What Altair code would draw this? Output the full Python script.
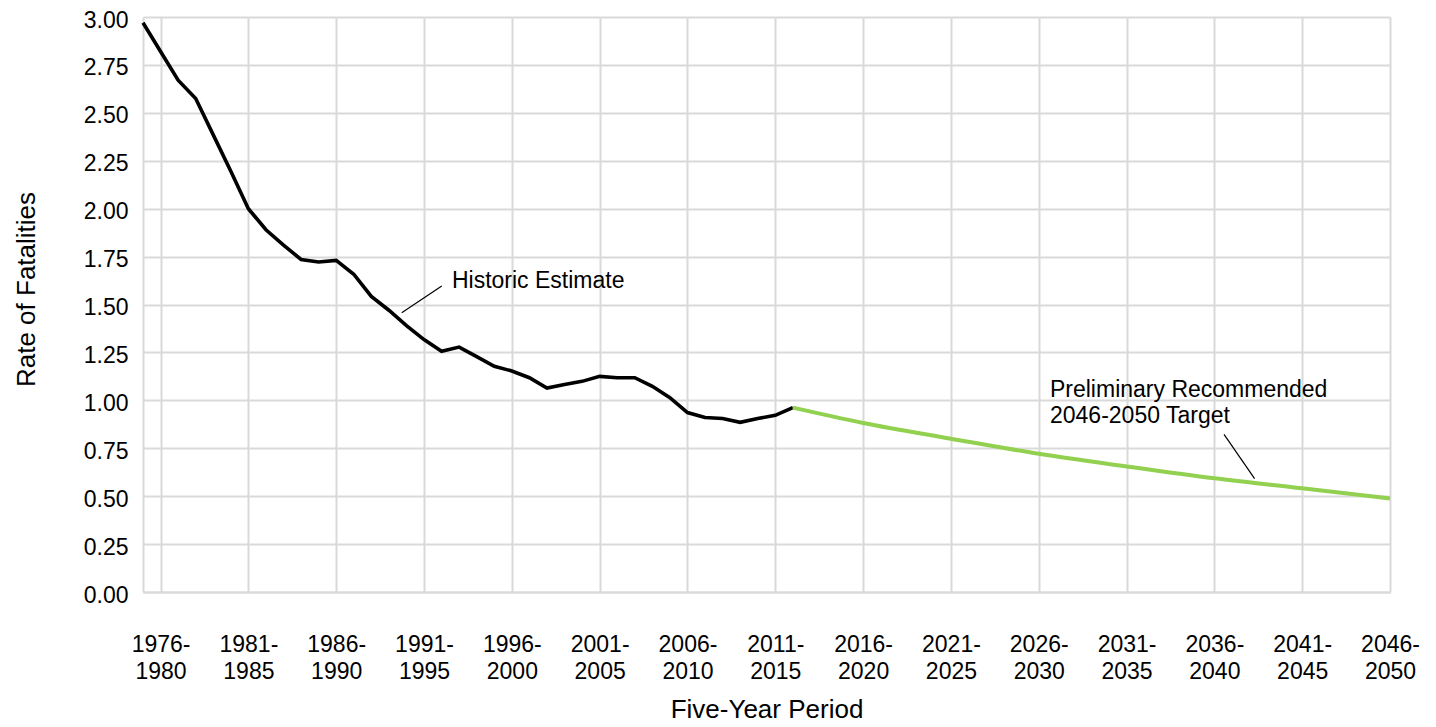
import altair as alt
import pandas as pd

# ---- data ----
hist_years = list(range(1979, 2017))
hist_values = [2.97, 2.82, 2.67, 2.575, 2.385, 2.195, 2.00, 1.89, 1.81, 1.735,
               1.722, 1.73, 1.658, 1.542, 1.47, 1.39, 1.317, 1.256, 1.278, 1.228,
               1.178, 1.153, 1.118, 1.064, 1.083, 1.099, 1.125, 1.118, 1.118, 1.073,
               1.014, 0.936, 0.91, 0.905, 0.885, 0.905, 0.922, 0.962]

target_years = [2016, 2020, 2025, 2030, 2035, 2040, 2045, 2050]
target_values = [0.962, 0.882, 0.80, 0.721, 0.655, 0.593, 0.541, 0.488]

tick_years = list(range(1980, 2051, 5))
y_ticks = [0, 0.25, 0.5, 0.75, 1.0, 1.25, 1.5, 1.75, 2.0, 2.25, 2.5, 2.75, 3.0]

label_texts = ["Historic Estimate", "Preliminary Recommended", "2046-2050 Target"]
label_x = [1996.59, 2030.64, 2030.64]
label_y = [1.5835, 1.019, 0.880]

leader_x = [1993.73, 2040.55]
leader_y = [1.457, 0.822]
leader_x2 = [1996.01, 2042.29]
leader_y2 = [1.597, 0.592]

FONT = "Liberation Sans"
GRID = "#d9d9d9"

hist_df = pd.DataFrame({"year": hist_years, "value": hist_values})
target_df = pd.DataFrame({"year": target_years, "value": target_values})
label_df = pd.DataFrame({"year": label_x, "value": label_y, "text": label_texts})
leader_df = pd.DataFrame({"year": leader_x, "value": leader_y, "year2": leader_x2, "value2": leader_y2})

x_scale = alt.Scale(domain=[1979, 2050], nice=False, zero=False)
y_scale = alt.Scale(domain=[0, 3], nice=False)

x_axis = alt.Axis(
    values=tick_years, title="Five-Year Period", grid=True, gridColor=GRID, gridWidth=2,
    domainColor=GRID, domainWidth=2, ticks=False,
    labelExpr="[toString(datum.value - 4) + '-', toString(datum.value)]",
    labelFont=FONT, labelFontSize=23, labelColor="#000000", labelLineHeight=27,
    labelPadding=41, labelBaseline="top", labelFlush=False, labelOverlap=False, labelBound=False,
    titleFont=FONT, titleFontSize=26, titleFontWeight="normal", titleColor="#000000",
    titleBaseline="alphabetic", titleY=125,
)
y_axis = alt.Axis(
    values=y_ticks, format=".2f", title="Rate of Fatalities", grid=True, gridColor=GRID, gridWidth=2,
    domainColor=GRID, domainWidth=2, ticks=False,
    labelFont=FONT, labelFontSize=23, labelColor="#000000", labelPadding=15,
    labelBaseline="middle", labelOffset=3, labelFlush=False, labelOverlap=False,
    titleFont=FONT, titleFontSize=26, titleFontWeight="normal", titleColor="#000000",
    titleAngle=-90, titleAlign="center", titleBaseline="middle", titleX=-117, titleY=272,
)

hist = alt.Chart(hist_df).mark_line(color="#000000", strokeWidth=3.6).encode(
    x=alt.X("year:Q", scale=x_scale, axis=x_axis),
    y=alt.Y("value:Q", scale=y_scale, axis=y_axis),
)

target = alt.Chart(target_df).mark_line(color="#92D050", strokeWidth=4, interpolate="monotone").encode(
    x=alt.X("year:Q", scale=x_scale, title="Five-Year Period"),
    y=alt.Y("value:Q", scale=y_scale, title="Rate of Fatalities"),
)

leaders = alt.Chart(leader_df).mark_rule(color="#000000", strokeWidth=1.2).encode(
    x=alt.X("year:Q", scale=x_scale, title="Five-Year Period"),
    y=alt.Y("value:Q", scale=y_scale, title="Rate of Fatalities"),
    x2="year2:Q",
    y2="value2:Q",
)

labels = alt.Chart(label_df).mark_text(
    align="left", baseline="alphabetic", font=FONT, fontSize=23, color="#000000"
).encode(
    x=alt.X("year:Q", scale=x_scale, title="Five-Year Period"),
    y=alt.Y("value:Q", scale=y_scale, title="Rate of Fatalities"),
    text="text:N",
)

chart = alt.layer(hist, target, leaders, labels).properties(
    width=1247, height=575,
    autosize=alt.AutoSizeParams(type="none"),
    padding={"left": 135, "top": 9, "right": 34, "bottom": 133},
    background="white",
).configure_view(stroke=None)

chart.save("out.html", embed_options={"renderer": "svg", "actions": False})
